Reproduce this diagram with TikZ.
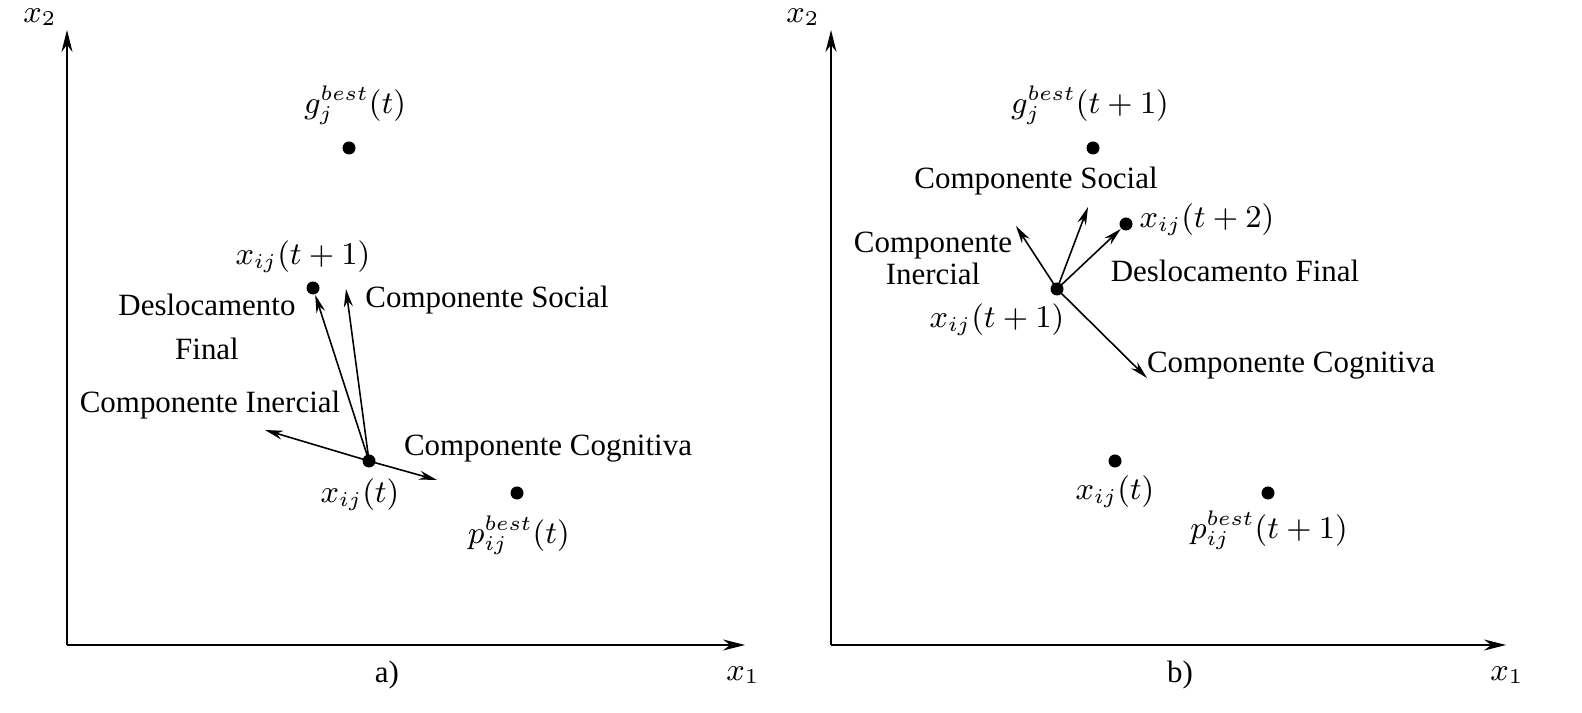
\documentclass[tikz,border=0pt]{standalone}
\usepackage{fontspec}
\setmainfont{Liberation Serif}
\usetikzlibrary{arrows.meta}
\tikzset{
  ponto/.style={circle, fill=black, inner sep=0pt, minimum size=0.13cm},
  eixo/.style={-{Stealth[length=0.22cm, width=0.11cm]}, line width=0.5pt},
  vetor/.style={-{Stealth[length=0.18cm, width=0.09cm]}, line width=0.45pt},
  rotulo/.style={font=\fontsize{8.8}{10.4}\selectfont, inner sep=0pt}
}
\begin{document}
\begin{tikzpicture}[x=0.01cm, y=-0.01cm]
        \useasboundingbox (0,0) rectangle (1582,713);
        % Painel a)
        \coordinate (Oa) at (67,645);
        \coordinate (Ya) at (67,30);
        \coordinate (Xa) at (745,645);
        \draw[eixo] (Oa) -- (Ya);
        \draw[eixo] (Oa) -- (Xa);
        \node[rotulo] (x2a) at (40,17) {$x_2$};
        \node[rotulo] (x1a) at (743,675) {$x_1$};
        \node[rotulo] (leta) at (387,675) {a)};
        \foreach \n/\p in {ga/{(349,148)}, xa1/{(313,288)}, xa0/{(369,461)}, pa/{(517,493)}}
            \node[ponto] (\n) at \p {};
        \node[rotulo] (lga) at (355,105) {$g_j^{best}(t)$};
        \node[rotulo] (lxa1) at (303,257) {$x_{ij}(t+1)$};
        \node[rotulo] (lxa0) at (360,495) {$x_{ij}(t)$};
        \node[rotulo] (lpa) at (519,535) {$p_{ij}^{best}(t)$};
        \coordinate (socA) at (346,289);
        \coordinate (ineA) at (265,430);
        \coordinate (cogA) at (437,480);
        \draw[vetor] (xa0.center) -- (xa1);
        \draw[vetor] (xa0.center) -- (socA);
        \draw[vetor] (xa0.center) -- (ineA);
        \draw[vetor] (xa0.center) -- (cogA);
        \node[rotulo, align=center] (desA) at (207,327) {Deslocamento\\[2pt]Final};
        \node[rotulo] (lsocA) at (487,300) {Componente Social};
        \node[rotulo] (lineA) at (210,405) {Componente Inercial};
        \node[rotulo] (lcogA) at (548,449) {Componente Cognitiva};

        % Painel b)
        \coordinate (Ob) at (831,645);
        \coordinate (Yb) at (831,30);
        \coordinate (Xb) at (1506,645);
        \draw[eixo] (Ob) -- (Yb);
        \draw[eixo] (Ob) -- (Xb);
        \node[rotulo] (x2b) at (803,17) {$x_2$};
        \node[rotulo] (x1b) at (1507,675) {$x_1$};
        \node[rotulo] (letb) at (1180,675) {b)};
        \foreach \n/\p in {gb/{(1093,148)}, xb1/{(1057,289)}, xb2/{(1126,224)}, xb0/{(1115,461)}, pb/{(1268,493)}}
            \node[ponto] (\n) at \p {};
        \node[rotulo] (lgb) at (1090,105) {$g_j^{best}(t+1)$};
        \node[rotulo] (lxb2) at (1207,220) {$x_{ij}(t+2)$};
        \node[rotulo] (lxb1) at (997,320) {$x_{ij}(t+1)$};
        \node[rotulo] (lxb0) at (1115,492) {$x_{ij}(t)$};
        \node[rotulo] (lpb) at (1269,530) {$p_{ij}^{best}(t+1)$};
        \coordinate (socB) at (1088,207);
        \coordinate (ineB) at (1016,226);
        \coordinate (cogB) at (1147,378);
        \draw[vetor] (xb1.center) -- (xb2);
        \draw[vetor] (xb1.center) -- (socB);
        \draw[vetor] (xb1.center) -- (ineB);
        \draw[vetor] (xb1.center) -- (cogB);
        \node[rotulo] (lsocB) at (1036,181) {Componente Social};
        \node[rotulo, align=center] (lineB) at (933,258) {Componente\\[-1.3pt]Inercial};
        \node[rotulo] (desB) at (1235,271) {Deslocamento Final};
        \node[rotulo] (lcogB) at (1291,366) {Componente Cognitiva};
    \end{tikzpicture}
\end{document}
